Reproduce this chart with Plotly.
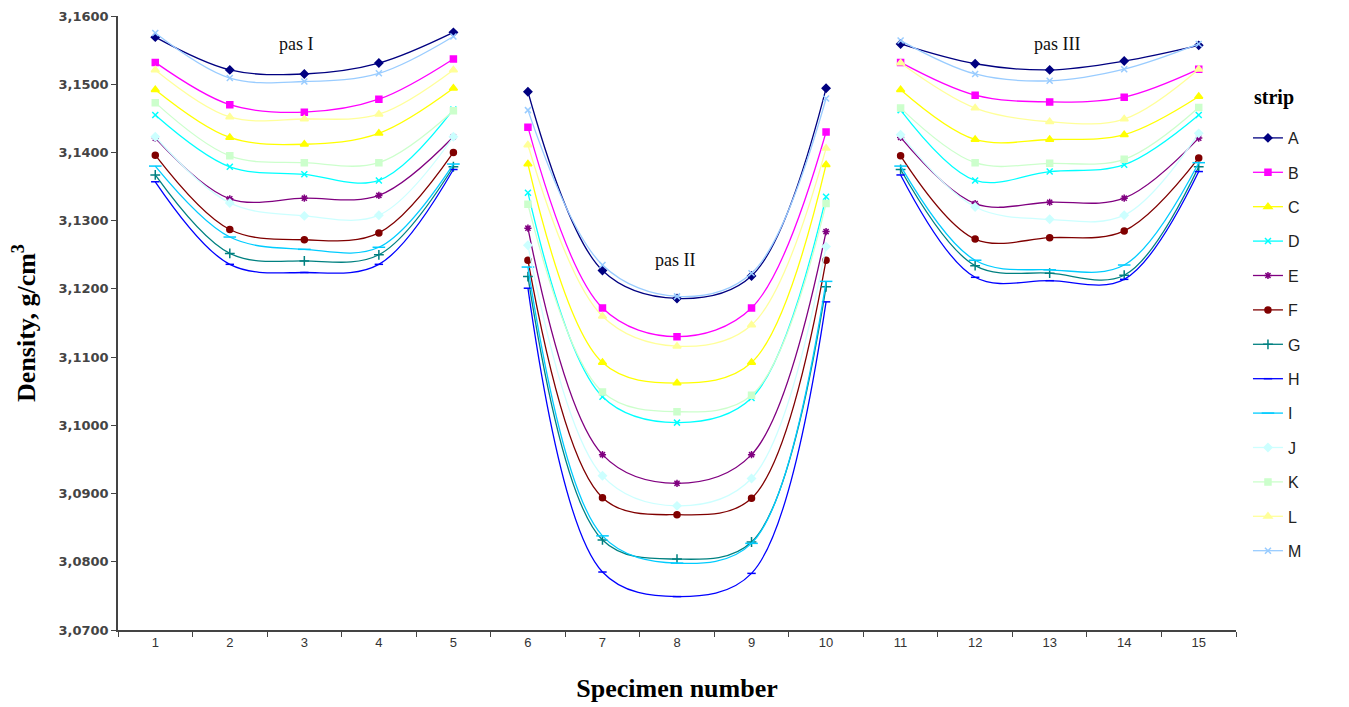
import plotly.graph_objects as go

specimens = [str(i) for i in range(1, 16)]
strips = ["A", "B", "C", "D", "E", "F", "G", "H", "I", "J", "K", "L", "M"]

# Density values per strip, specimens 1-5 (pas I), 6-10 (pas II), 11-15 (pas III)
A = [3.1569, 3.1521, 3.1515, 3.1531, 3.1576, 3.1489, 3.1227, 3.1186, 3.1219, 3.1494, 3.1559, 3.1530, 3.1521, 3.1534, 3.1557]
B = [3.1532, 3.1470, 3.1459, 3.1478, 3.1537, 3.1437, 3.1172, 3.1130, 3.1172, 3.1430, 3.1532, 3.1484, 3.1474, 3.1481, 3.1522]
C = [3.1492, 3.1422, 3.1412, 3.1428, 3.1494, 3.1383, 3.1092, 3.1062, 3.1092, 3.1382, 3.1492, 3.1419, 3.1419, 3.1426, 3.1482]
D = [3.1455, 3.1379, 3.1368, 3.1359, 3.1463, 3.1341, 3.1042, 3.1004, 3.1040, 3.1335, 3.1462, 3.1359, 3.1372, 3.1382, 3.1455]
E = [3.1421, 3.1332, 3.1333, 3.1337, 3.1423, 3.1289, 3.0957, 3.0915, 3.0957, 3.1284, 3.1422, 3.1325, 3.1327, 3.1333, 3.1421]
F = [3.1396, 3.1287, 3.1272, 3.1282, 3.1400, 3.1242, 3.0894, 3.0869, 3.0893, 3.1242, 3.1395, 3.1273, 3.1275, 3.1285, 3.1392]
G = [3.1367, 3.1252, 3.1241, 3.1250, 3.1379, 3.1218, 3.0832, 3.0804, 3.0829, 3.1203, 3.1375, 3.1234, 3.1223, 3.1220, 3.1379]
H = [3.1357, 3.1236, 3.1224, 3.1236, 3.1375, 3.1201, 3.0785, 3.0749, 3.0783, 3.1181, 3.1367, 3.1217, 3.1212, 3.1214, 3.1372]
I = [3.1380, 3.1276, 3.1258, 3.1261, 3.1383, 3.1232, 3.0838, 3.0798, 3.0827, 3.1211, 3.1380, 3.1242, 3.1228, 3.1235, 3.1385]
J = [3.1423, 3.1326, 3.1307, 3.1308, 3.1423, 3.1264, 3.0926, 3.0882, 3.0922, 3.1262, 3.1426, 3.1320, 3.1302, 3.1308, 3.1428]
K = [3.1473, 3.1395, 3.1385, 3.1385, 3.1461, 3.1324, 3.1049, 3.1020, 3.1044, 3.1325, 3.1465, 3.1385, 3.1384, 3.1390, 3.1466]
L = [3.1521, 3.1452, 3.1449, 3.1456, 3.1521, 3.1411, 3.1160, 3.1116, 3.1147, 3.1406, 3.1531, 3.1465, 3.1445, 3.1449, 3.1522]
M = [3.1575, 3.1509, 3.1504, 3.1516, 3.1570, 3.1462, 3.1235, 3.1189, 3.1223, 3.1479, 3.1564, 3.1515, 3.1505, 3.1522, 3.1559]

series = [A, B, C, D, E, F, G, H, I, J, K, L, M]
colors = ["#000080", "#FF00FF", "#FFFF00", "#00FFFF", "#800080", "#800000",
          "#008080", "#0000FF", "#00CCFF", "#CCFFFF", "#CCFFCC", "#FFFF99", "#99CCFF"]
symbols = ["diamond", "square", "triangle-up", "x-thin", "asterisk", "circle",
           "cross-thin", "line-ew", "line-ew", "diamond", "square", "triangle-up", "x-thin"]
sizes = [6, 6, 7, 6, 6, 6, 7, 6, 9, 6, 6, 7, 6]

y_ticks = [3.07 + 0.01 * k for k in range(10)]
passes = [(0, 5), (5, 10), (10, 15)]
pass_labels = ["pas I", "pas II", "pas III"]

fig = go.Figure()
for name, vals, col, sym, sz in zip(strips, series, colors, symbols, sizes):
    xs, ys = [], []
    for a, b in passes:
        xs += specimens[a:b] + [specimens[b - 1]]
        ys += vals[a:b] + [None]
    fig.add_trace(go.Scatter(
        x=xs, y=ys, name=name, mode="lines+markers", legendgroup=name,
        connectgaps=False,
        line=dict(color=col, width=1.3, shape="spline", smoothing=1.0),
        marker=dict(symbol=sym, size=sz, color=col,
                    line=dict(color=col, width=1.5)),
    ))

ann_pos = [(1.9, 3.1559), (6.97, 3.1242), (12.1, 3.1559)]
for txt, (xp, yp) in zip(pass_labels, ann_pos):
    fig.add_annotation(x=xp, y=yp, xref="x", yref="y", text=txt, showarrow=False,
                       font=dict(family="Liberation Serif", size=18, color="#111"))

fig.add_annotation(x=1.0143, y=0.868, xref="paper", yref="paper", xanchor="left",
                   yanchor="middle", text="<b>strip</b>", showarrow=False,
                   font=dict(family="Liberation Serif", size=20, color="black"))

fig.update_layout(
    width=1349, height=707,
    paper_bgcolor="white", plot_bgcolor="white",
    margin=dict(l=110, r=121, t=8, b=85, autoexpand=False),
    separators=", ",
    showlegend=True,
    legend=dict(
        x=1.0107, y=0.829, xanchor="left", yanchor="top",
        font=dict(family="Liberation Sans", size=16, color="#222"),
        tracegroupgap=10.6, itemwidth=30,
    ),
    xaxis=dict(
        type="category", categoryorder="array", categoryarray=specimens,
        range=[-0.5, 14.5], tickson="boundaries", ticks="outside", ticklen=5,
        tickcolor="#444", showline=True, linecolor="#444", linewidth=1.5,
        showgrid=False, zeroline=False, automargin=False,
        tickfont=dict(family="Liberation Sans", size=13, color="#333"),
        title=dict(text="<b>Specimen number</b>", standoff=29,
                   font=dict(family="Liberation Serif", size=26, color="black")),
    ),
    yaxis=dict(
        range=[3.07, 3.16], tickvals=y_ticks, tickformat=".4f",
        ticks="outside", ticklen=5, tickcolor="#444",
        showline=True, linecolor="#444", linewidth=1.5,
        showgrid=False, zeroline=False, automargin=False,
        tickfont=dict(family="DejaVu Sans", size=13, color="#444", weight="bold"),
        title=dict(text="<b>Density, g/cm<sup>3</sup></b>", standoff=20,
                   font=dict(family="Liberation Serif", size=26, color="black")),
    ),
)

fig.write_html("out.html")
